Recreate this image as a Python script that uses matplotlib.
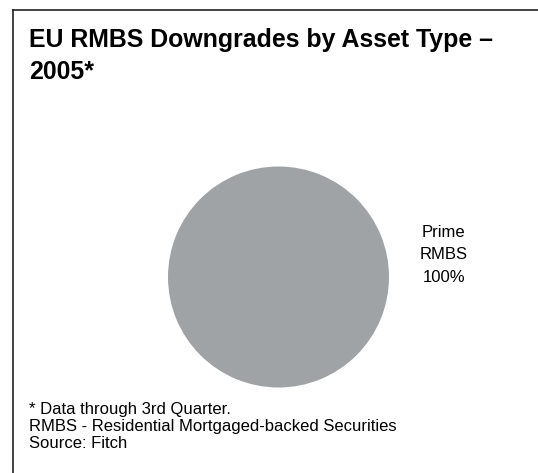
import matplotlib
matplotlib.use("Agg")
import matplotlib.pyplot as plt
from matplotlib.lines import Line2D

# data
categories = ["Prime\nRMBS"]
shares = [100]
colors = ["#a0a3a6"]

title = "EU RMBS Downgrades by Asset Type \u2013\n2005*"
notes = ["* Data through 3rd Quarter.",
         "RMBS - Residential Mortgaged-backed Securities",
         "Source: Fitch"]

plt.rcParams["font.family"] = ["Liberation Sans", "DejaVu Sans"]

W, H = 538, 473
fig = plt.figure(figsize=(W / 100, H / 100), dpi=100)
fig.patch.set_facecolor("white")

# frame: top and left rules only
fig.add_artist(Line2D([13 / W, 1], [1 - 10 / H, 1 - 10 / H], color="#222222", lw=1.2))
fig.add_artist(Line2D([13 / W, 13 / W], [0, 1 - 10 / H], color="#222222", lw=1.2))

fig.text(29 / W, 1 - 28 / H, title, ha="left", va="top",
         fontsize=17.9, fontweight="bold", linespacing=1.4)

# pie
cx, cy, r = 278.5, 277, 110.5
ax = fig.add_axes([(cx - r) / W, (H - cy - r) / H, 2 * r / W, 2 * r / H])
ax.pie(shares, colors=colors, startangle=90, counterclock=False,
       wedgeprops=dict(linewidth=0))
ax.set_xlim(-1, 1)
ax.set_ylim(-1, 1)
ax.set_aspect("equal")
ax.axis("off")

for name, val in zip(categories, shares):
    ax.text(1.495, 0.2, f"{name}\n{val}%", ha="center", va="center",
            fontsize=12, linespacing=1.65)

fig.text(29 / W, 1 - 426.5 / H, "\n".join(notes), ha="left", va="center",
         fontsize=12, linespacing=1.2)

fig.savefig("out.png", dpi=100, facecolor="white")
